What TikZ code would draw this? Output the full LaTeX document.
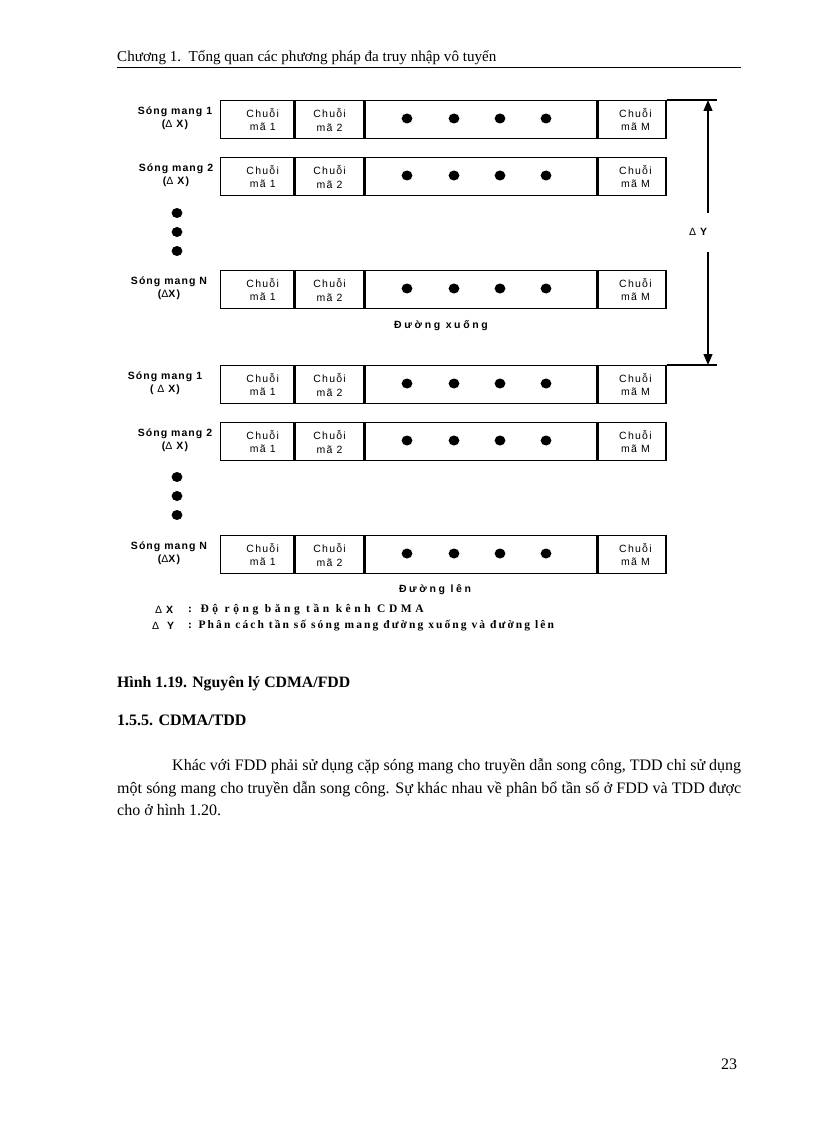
\documentclass[tikz,border=0pt]{standalone}
\usepackage{fontspec}
\setmainfont{Liberation Serif}
\newfontfamily\sansLS[LetterSpace=12]{Liberation Sans}
\newfontfamily\sansLB[LetterSpace=10]{Liberation Sans}
\newfontfamily\sansLW[LetterSpace=25]{Liberation Sans}
\newfontfamily\serifLA[LetterSpace=31]{Liberation Serif}
\newfontfamily\serifLB[LetterSpace=18]{Liberation Serif}
\usetikzlibrary{arrows.meta}
\begin{document}
\begin{tikzpicture}[x=1pt,y=-1pt,
  cell/.style={draw, line width=1.4pt, inner sep=0pt, minimum height=38pt, anchor=north west,
    align=center, font=\sansLS\fontsize{10.5}{13}\selectfont},
  lab/.style={align=center, inner sep=0pt, font=\sansLB\bfseries\fontsize{10.5}{13}\selectfont},
  dirlab/.style={inner sep=0pt, font=\sansLW\bfseries\fontsize{10.5}{13}\selectfont},
  dot/.style={fill=black},
  body/.style={inner sep=0pt, anchor=base west, font=\fontsize{16}{20}\selectfont},
  legenda/.style={inner sep=0pt, anchor=west, font=\serifLA\bfseries\fontsize{11.5}{13}\selectfont},
  legendb/.style={inner sep=0pt, anchor=west, font=\serifLB\bfseries\fontsize{11.5}{13}\selectfont},
  rule/.style={line width=1.4pt}]
\useasboundingbox (0,0) rectangle (816,1123);
\fill[white] (0,0) rectangle (816,1123);

% header
\node[body, font=\fontsize{15.1}{18}\selectfont] (hdr) at (117,62) {Chương 1.\ \ Tổng quan các phương pháp đa truy nhập vô tuyến};
\coordinate (hl) at (117,67.5);
\coordinate (hr) at (741,67.5);
\draw[line width=1.3pt] (hl) -- (hr);

% rows
\foreach \n/\t/\lx/\ta/\tb in {
  dla/100/175/{Sóng mang 1}/{(\mdseries Δ\bfseries{} X)},
  dlb/157/176/{Sóng mang 2}/{(\mdseries Δ\bfseries{} X)},
  dlc/270/169/{Sóng mang N}/{(\mdseries Δ\bfseries X)},
  ula/365/165/{Sóng mang 1}/{( \mdseries Δ\bfseries{} X)},
  ulb/422/175/{Sóng mang 2}/{(\mdseries Δ\bfseries{} X)},
  ulc/535/169/{Sóng mang N}/{(\mdseries Δ\bfseries X)}}{
  \node[cell, minimum width=73pt] (\n-c1) at (220,\t) {\hspace*{11pt}Chuỗi\\\hspace*{11pt}mã 1};
  \node[cell, minimum width=69pt] (\n-c2) at (\n-c1.north east) {Chuỗi\\[1pt]mã 2};
  \node[cell, minimum width=231pt] (\n-c3) at (\n-c2.north east) {};
  \node[cell, minimum width=68pt] (\n-c4) at (\n-c3.north east) {\hspace*{7pt}Chuỗi\\\hspace*{7pt}mã M};
  \foreach \dx in {407,454,500,546}{
    \fill[dot] (\dx,\t+18.5) ellipse [x radius=5.4pt, y radius=5pt];
  }
  \node[lab] (\n-lab) at (\lx,\t+18.5) {\ta\\\tb};
}

% vertical dots
\foreach \dy in {213,232,251,477,496,515}{
  \fill[dot] (177,\dy) ellipse [x radius=5.4pt, y radius=5pt];
}

% extended lines
\coordinate (dlend) at (717,100);
\coordinate (ulend) at (717,365);
\draw[rule] (dla-c4.north east) -- (dlend);
\draw[rule] (ula-c4.north east) -- (ulend);

% Delta Y arrow
\coordinate (ytop) at (708,100);
\coordinate (ya) at (708,213);
\coordinate (yb) at (708,252);
\coordinate (ybot) at (708,365);
\node[lab] (dy) at (698,232) {\mdseries Δ\bfseries{} Y};
\draw[line width=1.3pt, -{Triangle[width=9pt,length=11pt]}] (ya) -- (ytop);
\draw[line width=1.3pt, -{Triangle[width=9pt,length=11pt]}] (yb) -- (ybot);

% direction labels
\node[dirlab] (down) at (441,326) {Đường xuống};
\node[dirlab] (up) at (435,590) {Đường lên};

% legend
\node[lab, anchor=west] (lgx) at (155,610) {\mdseries Δ\bfseries{} X};
\node[legenda] (lgxt) at (188,610) {: Độ rộng băng tần kênh CDMA};
\node[lab, anchor=west] (lgy) at (152,626) {\mdseries Δ\bfseries{}\ \ Y};
\node[legendb] (lgyt) at (188,626) {: Phân cách tần số sóng mang đường xuống và đường lên};

% caption and section
\node[body, font=\bfseries\fontsize{15.8}{20}\selectfont] (cap) at (117,687) {Hình 1.19. Nguyên lý CDMA/FDD};
\node[body, font=\bfseries\fontsize{16}{20}\selectfont] (sec) at (117,725) {1.5.5. CDMA/TDD};

% paragraph
\node[body] (p1) at (172,770) {\makebox[569pt][s]{Khác với FDD phải sử dụng cặp sóng mang cho truyền dẫn song công, TDD chỉ sử dụng}};
\node[body] (p2) at (117,793) {\makebox[624pt][s]{một sóng mang cho truyền dẫn song công. Sự khác nhau về phân bổ tần số ở FDD và TDD được}};
\node[body] (p3) at (117,815.5) {cho ở hình 1.20.};

% page number
\node[body] (pg) at (721,1069) {23};
\end{tikzpicture}
\end{document}
